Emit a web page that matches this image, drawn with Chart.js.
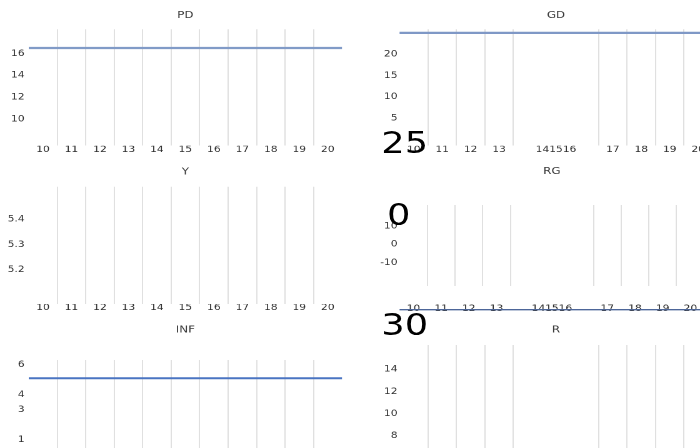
<!DOCTYPE html>
<html><head><meta charset="utf-8">
<script src="https://cdn.jsdelivr.net/npm/chart.js@4"></script>
<style>
html,body{margin:0;padding:0;width:700px;height:448px;overflow:hidden;background:#fff;}
#wrap{position:absolute;left:0;top:0;width:576px;height:448px;transform:scaleX(1.25);transform-origin:0 0;}
canvas{position:absolute;}
.big{position:absolute;font-family:'DejaVu Sans';font-size:29.5px;line-height:29px;color:#000;white-space:nowrap;}
</style></head><body><div id="wrap"></div>
<script>
// ---- data ----
const years = ['10','11','12','13','14','15','16','17','18','19','20'];
const yearsRight = ['10','11','12','13','','141516','','17','18','19','20'];
const hiddenRightGrid = [5, 6];

const pdValues  = [16.52,16.52,16.52,16.52,16.52,16.52,16.52,16.52,16.52,16.52,16.52];
const gdValues  = [25.0,25.0,25.0,25.0,25.0,25.0,25.0,25.0,25.0,25.0,25.0];
const yValues   = [null,null,null,null,null,null,null,null,null,null,null];
const rgValues  = [-35.6,-35.6,-35.6,-35.6,-35.6,-35.6,-35.6,-35.6,-35.6,-35.6,-35.6];
const infValues = [5.11,5.11,5.11,5.11,5.11,5.11,5.11,5.11,5.11,5.11,5.11];
const rValues   = [null,null,null,null,null,null,null,null,null,null,null];

const pdTicks  = [10, 12, 14, 16];
const gdTicks  = [5, 10, 15, 20];
const yTicks   = [5.2, 5.3, 5.4];
const rgTicks  = [-10, 0, 10];
const infTicks = [1, 3, 4, 6];
const rTicks   = [8, 10, 12, 14];

const bigLabels = ['25', '0', '30'];

// ---- layout helpers ----
const S = 1.25;
const TICK_FONT = {family: 'DejaVu Sans', size: 8.5};
const TITLE_FONT = {family: 'DejaVu Sans', size: 9.5, weight: 'normal'};
const wrap = document.getElementById('wrap');

function panel(p) {
  const cv = document.createElement('canvas');
  const wU = Math.round(p.width / S);
  cv.width = wU; cv.height = p.height;
  cv.style.left = (p.left / S) + 'px';
  cv.style.top = p.top + 'px';
  wrap.appendChild(cv);
  const tickLH = TICK_FONT.size * 1.2;
  const titleLH = TITLE_FONT.size * 1.2;
  const titlePadTop = p.titleY - p.top - titleLH / 2;
  const titlePadBottom = p.plotTop - p.top - titlePadTop - titleLH;
  const yAxisW = (p.plotLeft - p.left) / S;
  const yPad = (p.plotLeft - p.yLabelRight) / S;
  const padRight = wU - (p.plotRight - p.left) / S;
  const xAxisH = p.top + p.height - p.plotBottom;
  const xPad = p.labelY - p.plotBottom - tickLH / 2;
  const hide = new Set(p.hiddenGrid || []);
  const ds = {data: p.values, xAxisID: 'xl', borderColor: p.color, borderWidth: p.lineWidth,
    pointRadius: 0, pointHoverRadius: 0, tension: 0, fill: false};
  if (p.noClip) ds.clip = false;
  new Chart(cv, {
    type: 'line',
    data: {labels: p.labels, datasets: [ds]},
    options: {
      responsive: false, animation: false, devicePixelRatio: 2,
      layout: {padding: {left: 0, right: padRight, top: 0, bottom: 0}},
      plugins: {
        legend: {display: false}, tooltip: {enabled: false},
        title: {display: true, text: p.title, fullSize: false, color: '#3a3a3a', font: TITLE_FONT,
          padding: {top: titlePadTop, bottom: titlePadBottom}}
      },
      scales: {
        x: {type: 'category', offset: true, position: 'bottom',
          grid: {offset: true, drawTicks: false, tickLength: 0, lineWidth: 0.8,
            color: c => (c.type !== 'tick' || c.index === 0 || hide.has(c.index)) ? 'rgba(0,0,0,0)' : '#d9d9d9'},
          border: {display: false},
          ticks: {autoSkip: false, maxRotation: 0, minRotation: 0, padding: xPad, color: '#2e2e2e', font: TICK_FONT},
          afterFit: s => { s.height = xAxisH; }},
        xl: {type: 'category', offset: false, display: false, position: 'bottom'},
        y: {type: 'linear', min: p.yMin, max: p.yMax,
          grid: {display: false, drawTicks: false, tickLength: 0}, border: {display: false},
          ticks: {padding: yPad, color: '#2e2e2e', font: TICK_FONT, callback: v => String(v)},
          afterBuildTicks: s => { s.ticks = p.yTicks.map(v => ({value: v})); },
          afterFit: s => { s.width = yAxisW; }}
      }
    }
  });
}

// left column
panel({title: 'PD', labels: years, values: pdValues, yTicks: pdTicks, color: '#819bc7', lineWidth: 2.2,
  left: 0, top: 0, width: 350, height: 162, plotLeft: 28.75, plotRight: 342, plotTop: 29.3, plotBottom: 145.7,
  titleY: 15.5, labelY: 149.8, yLabelRight: 24.5, yMin: 7.58, yMax: 18.23});
panel({title: 'Y', labels: years, values: yValues, yTicks: yTicks, color: '#819bc7', lineWidth: 2.2,
  left: 0, top: 158, width: 350, height: 162, plotLeft: 28.75, plotRight: 342, plotTop: 186.7, plotBottom: 304,
  titleY: 172, labelY: 308, yLabelRight: 24.5, yMin: 5.066, yMax: 5.528});
panel({title: 'INF', labels: years, values: infValues, yTicks: infTicks, color: '#4a74c2', lineWidth: 2,
  left: 0, top: 316, width: 350, height: 184, plotLeft: 28.75, plotRight: 342, plotTop: 360, plotBottom: 477,
  titleY: 330, labelY: 481, yLabelRight: 24.5, yMin: -1.5, yMax: 6.335});
// right column
panel({title: 'GD', labels: yearsRight, hiddenGrid: hiddenRightGrid, values: gdValues, yTicks: gdTicks, color: '#7f98c6', lineWidth: 2.2,
  left: 350, top: 0, width: 370, height: 162, plotLeft: 399.56, plotRight: 712.4, plotTop: 29.3, plotBottom: 145.7,
  titleY: 15.5, labelY: 150, yLabelRight: 397.5, yMin: -1.41, yMax: 25.83});
panel({title: 'RG', labels: yearsRight, hiddenGrid: hiddenRightGrid, values: rgValues, yTicks: rgTicks, color: '#4d6699', lineWidth: 1.4, noClip: true,
  left: 350, top: 158, width: 370, height: 165, plotLeft: 399.56, plotRight: 712.4, plotTop: 205, plotBottom: 286,
  titleY: 171.7, labelY: 308.8, yLabelRight: 397.5, yMin: -22.67, yMax: 21.47});
panel({title: 'R', labels: yearsRight, hiddenGrid: hiddenRightGrid, values: rValues, yTicks: rTicks, color: '#7f98c6', lineWidth: 2,
  left: 350, top: 316, width: 370, height: 184, plotLeft: 399.56, plotRight: 712.4, plotTop: 345, plotBottom: 462,
  titleY: 330, labelY: 466, yLabelRight: 397.5, yMin: 5.66, yMax: 16.19});

// oversized stray labels
const bigPos = [[305.1, 129.4], [309.5, 201.4], [305.0, 310.7]];
bigLabels.forEach((t, i) => {
  const d = document.createElement('div');
  d.className = 'big'; d.textContent = t;
  d.style.left = bigPos[i][0] + 'px'; d.style.top = bigPos[i][1] + 'px';
  wrap.appendChild(d);
});
</script>
</body></html>
